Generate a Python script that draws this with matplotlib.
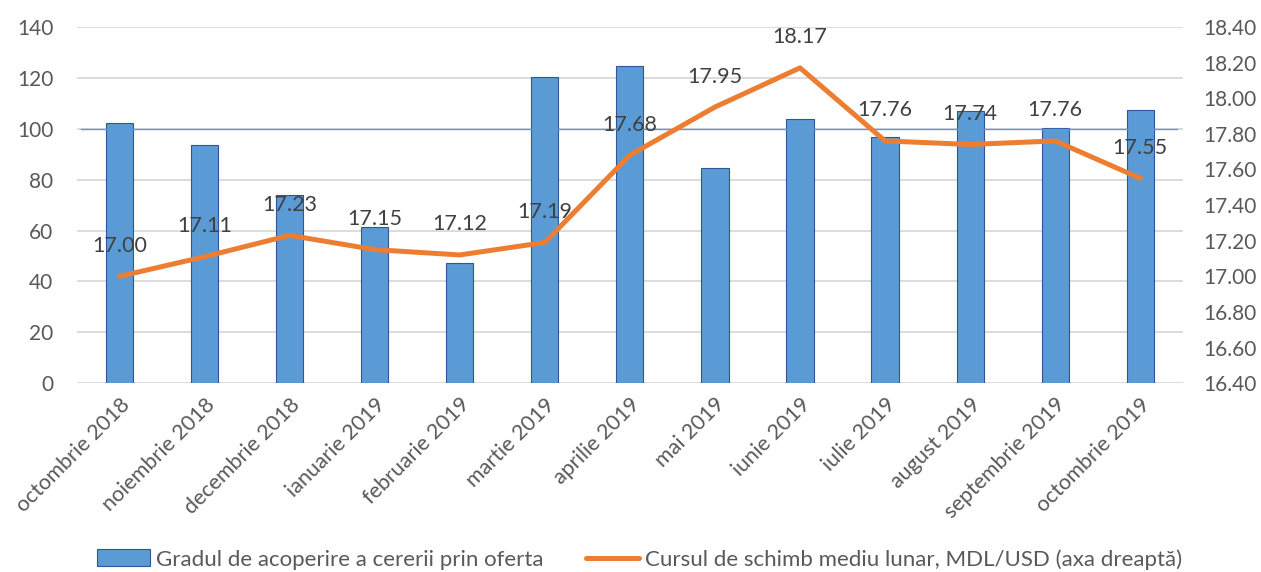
import numpy as np
import matplotlib.pyplot as plt

plt.rcParams['font.family'] = ['Lato', 'DejaVu Sans']

# date
luni = ['octombrie 2018', 'noiembrie 2018', 'decembrie 2018', 'ianuarie 2019',
        'februarie 2019', 'martie 2019', 'aprilie 2019', 'mai 2019', 'iunie 2019',
        'iulie 2019', 'august 2019', 'septembrie 2019', 'octombrie 2019']
acoperire = [102.1, 93.7, 73.8, 61.2, 47.1, 120.3, 124.5, 84.7, 103.9, 96.6, 106.8, 100.1, 107.2]
curs = [17.00, 17.11, 17.23, 17.15, 17.12, 17.19, 17.68, 17.95, 18.17, 17.76, 17.74, 17.76, 17.55]

gri = '#595959'
x = np.arange(len(luni))

fig = plt.figure(figsize=(12.61, 5.72), dpi=100)
ax = fig.add_axes([0.061, 0.330, 0.877, 0.623])
ax2 = ax.twinx()

ax.set_ylim(0, 140)
ax.set_yticks(range(0, 141, 20))
ax.set_xlim(-0.5, len(luni) - 0.5)
ax.grid(axis='y', color='#D9D9D9', linewidth=1.3)
ax.set_axisbelow(True)

bars = ax.bar(x, acoperire, width=0.32, color='#5B9BD5', edgecolor='#2F5597',
              linewidth=0.8, zorder=2, label='Gradul de acoperire a cererii prin oferta')
ax.axhline(100, xmin=0.004, xmax=0.995, color='#5B9BD5', linewidth=1.0, zorder=3)

ax2.set_ylim(16.40, 18.40)
ax2.set_yticks(np.arange(16.40, 18.41, 0.20))
ax2.set_yticklabels([f'{v:.2f}' for v in np.arange(16.40, 18.41, 0.20)])
line, = ax2.plot(x, curs, color='#ED7D31', linewidth=3.6, solid_capstyle='round',
                 zorder=4, label='Cursul de schimb mediu lunar, MDL/USD (axa dreaptă)')
for xi, v in zip(x, curs):
    ax2.annotate(f'{v:.2f}', (xi, v), xytext=(0, 22), textcoords='offset points',
                 ha='center', va='center', fontsize=15.5, color='#404040')

for a in (ax, ax2):
    for s in a.spines.values():
        s.set_visible(False)
    a.tick_params(length=0, labelsize=15, labelcolor=gri)

ax.set_xticks(x)
ax.set_xticklabels(luni, rotation=45, ha='right', rotation_mode='anchor', fontsize=15.5)
ax.tick_params(axis='x', pad=8)
ax.tick_params(axis='y', pad=17)
ax2.tick_params(axis='y', pad=15)

fig.legend(handles=[bars, line], loc='center', bbox_to_anchor=(0.507, 0.022), ncol=2,
           frameon=False, fontsize=16, labelcolor=gri, handlelength=2.4,
           handleheight=0.8, columnspacing=1.9, handletextpad=0.25)

fig.savefig('out.png', dpi=100)
